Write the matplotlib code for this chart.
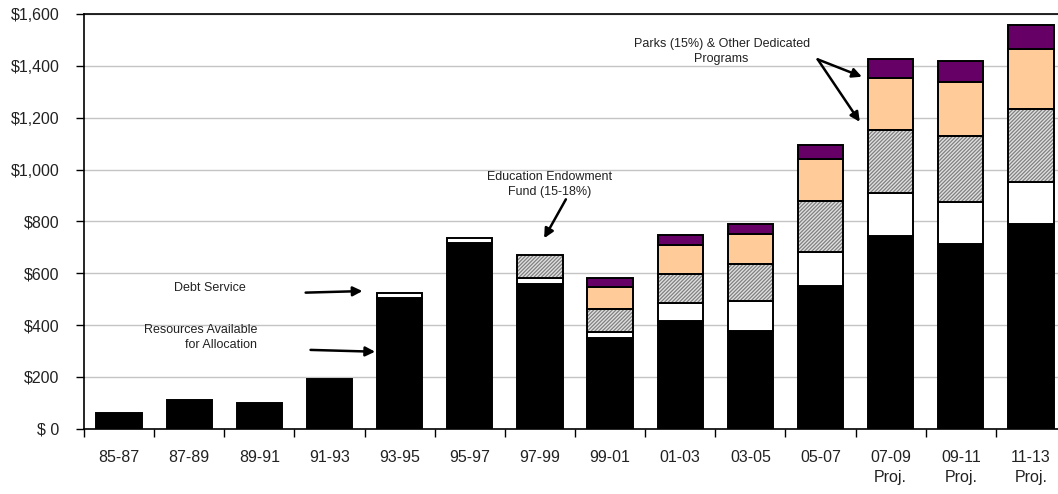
import matplotlib
matplotlib.use("Agg")
import matplotlib.pyplot as plt
import numpy as np

plt.rcParams["font.family"] = ["Liberation Sans", "DejaVu Sans"]
plt.rcParams["hatch.linewidth"] = 0.9

# Biennium labels
periods = ["85-87", "87-89", "89-91", "91-93", "93-95", "95-97", "97-99",
           "99-01", "01-03", "03-05", "05-07", "07-09\nProj.", "09-11\nProj.",
           "11-13\nProj."]

# Lottery proceeds by use ($ millions)
resources = [62, 109, 98, 190, 505, 716, 559, 349, 417, 377, 549, 742, 711, 791]
debt_service = [0, 0, 0, 0, 18, 20, 21, 24, 68, 117, 132, 167, 165, 162]
education_fund = [0, 0, 0, 0, 0, 0, 91, 89, 112, 140, 196, 242, 252, 282]
parks = [0, 0, 0, 0, 0, 0, 0, 86, 111, 116, 162, 201, 210, 231]
other_dedicated = [0, 0, 0, 0, 0, 0, 0, 35, 39, 41, 54, 76, 82, 93]

yticks = [0, 200, 400, 600, 800, 1000, 1200, 1400, 1600]
ytick_labels = ["$ 0", "$200", "$400", "$600", "$800", "$1,000", "$1,200",
                "$1,400", "$1,600"]

fig = plt.figure(figsize=(10.58, 4.94), dpi=100)
ax = fig.add_axes([84 / 1058, 65.3 / 494, 982 / 1058, 414.7 / 494])

x = np.arange(len(periods))
w = 0.645
edge_lw = 1.4

res = np.array(resources, float)
debt = np.array(debt_service, float)
edu = np.array(education_fund, float)
prk = np.array(parks, float)
oth = np.array(other_dedicated, float)

ax.bar(x, res, w, color="black", edgecolor="black", linewidth=edge_lw, zorder=3)

b1 = res
m = debt > 0
ax.bar(x[m], debt[m], w, bottom=b1[m], color="white", edgecolor="black",
       linewidth=edge_lw, zorder=3)

b2 = b1 + debt
m = edu > 0
ax.bar(x[m], edu[m], w, bottom=b2[m], color="#e0e0e0", edgecolor="#808080",
       hatch="/////////", linewidth=0, zorder=3)
ax.bar(x[m], edu[m], w, bottom=b2[m], fill=False, edgecolor="black",
       linewidth=edge_lw, zorder=4)

b3 = b2 + edu
m = prk > 0
ax.bar(x[m], prk[m], w, bottom=b3[m], color="#ffcc99", edgecolor="black",
       linewidth=edge_lw, zorder=3)

b4 = b3 + prk
m = oth > 0
ax.bar(x[m], oth[m], w, bottom=b4[m], color="#660066", edgecolor="black",
       linewidth=edge_lw, zorder=3)

ax.set_xlim(-0.5, len(periods) - 0.5)
ax.set_ylim(0, 1600)

ax.set_yticks(yticks)
ax.set_yticklabels(ytick_labels)
ax.set_xticks(np.arange(len(periods) + 1) - 0.5)
ax.set_xticklabels([])
ax.set_xticks(x, minor=True)
ax.set_xticklabels(periods, minor=True, linespacing=1.45)

ax.tick_params(axis="y", which="major", direction="out", length=5.5, width=1,
               pad=12, labelsize=11.5, labelcolor="#222222", color="black")
ax.tick_params(axis="x", which="major", direction="out", length=5.5, width=1,
               color="black")
ax.tick_params(axis="x", which="minor", length=0, pad=15, labelsize=11.5,
               labelcolor="#222222")

ax.yaxis.grid(True, color="#c4c4c4", linewidth=1, zorder=0)
ax.set_axisbelow(True)
for side in ["left", "bottom", "top"]:
    ax.spines[side].set_color("black")
    ax.spines[side].set_linewidth(1.2)
ax.spines["right"].set_visible(False)

note_kw = dict(fontsize=9, color="#222222", linespacing=1.3)
arrow_kw = dict(arrowstyle="-|>", color="black", lw=1.8, mutation_scale=14,
                shrinkA=0, shrinkB=0)

ax.text(1.30, 542, "Debt Service", ha="center", va="center", **note_kw)
ax.annotate("", xy=(3.47, 531), xytext=(2.66, 525), arrowprops=arrow_kw)

ax.text(1.97, 352, "Resources Available\nfor Allocation", ha="right",
        va="center", multialignment="right", **note_kw)
ax.annotate("", xy=(3.65, 297), xytext=(2.73, 304), arrowprops=arrow_kw)

ax.text(6.14, 943, "Education Endowment\nFund (15-18%)", ha="center",
        va="center", **note_kw)
ax.annotate("", xy=(6.06, 735), xytext=(6.37, 885), arrowprops=arrow_kw)

ax.text(8.59, 1455, "Parks (15%) & Other Dedicated\nPrograms", ha="center",
        va="center", **note_kw)
ax.annotate("", xy=(10.59, 1358), xytext=(9.96, 1425), arrowprops=arrow_kw)
ax.annotate("", xy=(10.56, 1184), xytext=(9.96, 1425), arrowprops=arrow_kw)

fig.savefig("out.png", dpi=100)
